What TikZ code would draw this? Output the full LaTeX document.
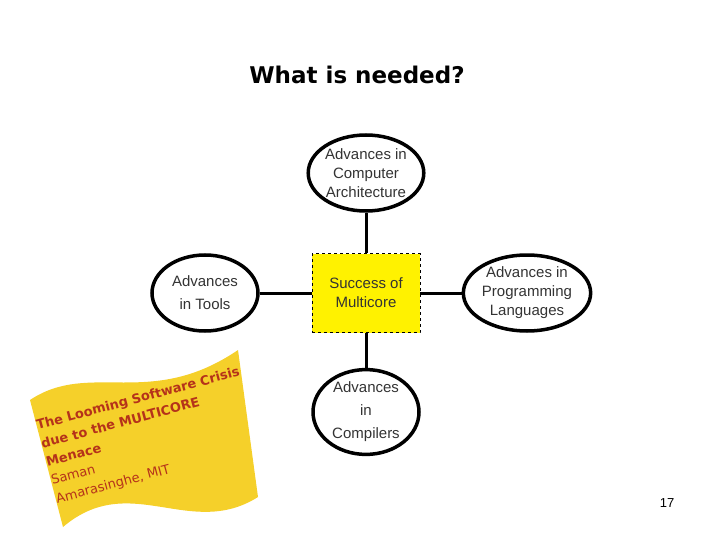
\documentclass[tikz,border=0pt]{standalone}
\usepackage{fontspec}
\setmainfont{Liberation Sans}
\newfontfamily\wide{DejaVu Sans}
\usetikzlibrary{shapes.geometric}
\definecolor{flag}{HTML}{F5D02A}
\definecolor{flagtxt}{HTML}{B5321A}
\begin{document}
\begin{tikzpicture}[x=1pt,y=-1pt,
  oval/.style={draw,line width=3.5pt,ellipse,minimum width=106pt,minimum height=76pt,inner sep=0pt,align=center,font=\fontsize{15}{19}\selectfont,text=black!80},
  link/.style={line width=3pt}]
\useasboundingbox (0,0) rectangle (720,540);
\node[font=\wide\bfseries\fontsize{23}{28}\selectfont] (title) at (357,75) {What is needed?};
\node[draw,dashed,fill=yellow,minimum width=108pt,minimum height=79pt,align=center,font=\fontsize{15}{19}\selectfont,text=black!80] (c) at (366,293) {Success of\\Multicore};
\node[oval] (t) at (366,173) {Advances in\\Computer\\Architecture};
\node[oval,font=\fontsize{15}{23}\selectfont] (l) at (205,293) {Advances\\in Tools};
\node[oval] (r) at (527,293) {Advances in\\Programming\\Languages};
\node[oval,font=\fontsize{15}{23}\selectfont] (b) at (366,412) {Advances\\in\\Compilers};
\draw[link] (t) -- (c); \draw[link] (l) -- (c); \draw[link] (r) -- (c); \draw[link] (b) -- (c);
\fill[flag] (30,400) .. controls (90,360) and (150,410) .. (238,350)
  -- (258,497) .. controls (190,540) and (130,470) .. (63,527) -- cycle;
\node[rotate=15,align=left,text=flagtxt,font=\wide\fontsize{13}{19}\selectfont,inner sep=0pt] (ft) at (148,436)
 {\textbf{The Looming Software Crisis}\\\textbf{due to the MULTICORE}\\\textbf{Menace}\\Saman\\Amarasinghe, MIT};
\node[font=\fontsize{13}{15}\selectfont] (pg) at (667,503) {17};
\end{tikzpicture}
\end{document}
